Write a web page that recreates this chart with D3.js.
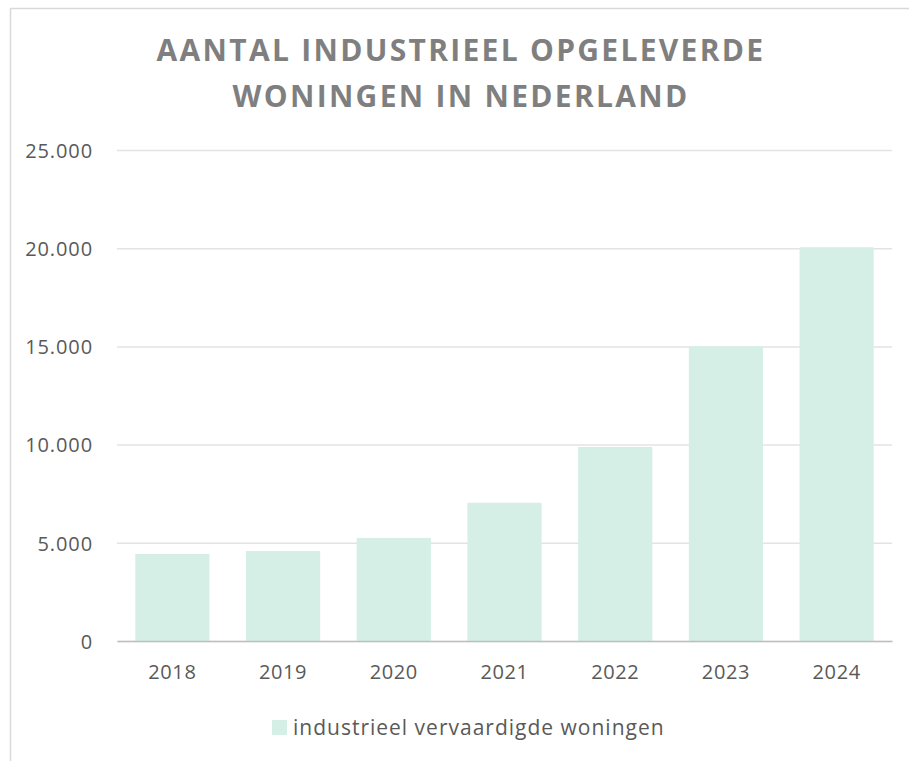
<!DOCTYPE html>
<html><head><meta charset="utf-8">
<script src="https://cdn.jsdelivr.net/npm/d3@7"></script>
<style>body{margin:0;background:#fff}svg{display:block}</style>
</head><body>
<svg id="c" width="909" height="761"></svg>
<script>
const titleLines = ["AANTAL INDUSTRIEEL OPGELEVERDE", "WONINGEN IN NEDERLAND"];
const categories = ["2018","2019","2020","2021","2022","2023","2024"];
const values = [4430, 4580, 5250, 7040, 9880, 15000, 20050];
const yTicks = [0, 5000, 10000, 15000, 20000, 25000];
const seriesName = "industrieel vervaardigde woningen";

const svg = d3.select("#c");
const font = "'Open Sans', 'Noto Sans', sans-serif";
// outer frame
svg.append("rect").attr("x",10.5).attr("y",8.5).attr("width",1000).attr("height",1000)
  .attr("fill","none").attr("stroke","#d9d9d9").attr("stroke-width",1.5);

const m = {left:117, right:892, top:150, bottom:641};
const x = d3.scaleBand().domain(categories).range([m.left,m.right]).paddingInner(0.33).paddingOuter(0.165);
const y = d3.scaleLinear().domain([0,25000]).range([m.bottom,m.top]);

// grid
const fmt = v => d3.format(",")(v).replace(/,/g,".");
const ya = svg.append("g").attr("transform",`translate(${m.left},0)`)
  .call(d3.axisLeft(y).tickValues(yTicks).tickSize(-(m.right-m.left)).tickPadding(24).tickFormat(fmt));
ya.select(".domain").remove();
ya.selectAll(".tick line").attr("stroke","#e3e3e3").attr("stroke-width",1.5);
ya.selectAll(".tick text").attr("fill","#595959").attr("font-size",20).attr("letter-spacing",0.9)
  .attr("font-family",font).attr("dy","0.36em");

// bars
svg.append("g").selectAll("rect").data(values).join("rect")
  .attr("x",(d,i)=>x(categories[i])).attr("width",x.bandwidth())
  .attr("y",d=>y(d)).attr("height",d=>y(0)-y(d)).attr("fill","#d5efe7");

// x axis
const xa = svg.append("g").attr("transform",`translate(0,${m.bottom})`)
  .call(d3.axisBottom(x).tickSize(0).tickPadding(24));
xa.select(".domain").attr("stroke","#bfbfbf").attr("stroke-width",1.5);
xa.selectAll(".tick text").attr("fill","#595959").attr("font-size",20).attr("letter-spacing",0.6)
  .attr("font-family",font);

// title
svg.append("g").selectAll("text").data(titleLines).join("text")
  .attr("x",461).attr("y",(d,i)=>61+i*46).attr("text-anchor","middle")
  .attr("font-family",font).attr("font-weight","bold").attr("font-size",30).attr("letter-spacing",2.3)
  .attr("fill","#7f7f7f").text(d=>d);

// legend
svg.append("rect").attr("x",272).attr("y",720).attr("width",15).attr("height",15).attr("fill","#d5efe7");
svg.append("text").attr("x",293).attr("y",735).attr("font-family",font).attr("font-size",21)
  .attr("letter-spacing",1.0).attr("fill","#595959").text(seriesName);
</script>
</body></html>
